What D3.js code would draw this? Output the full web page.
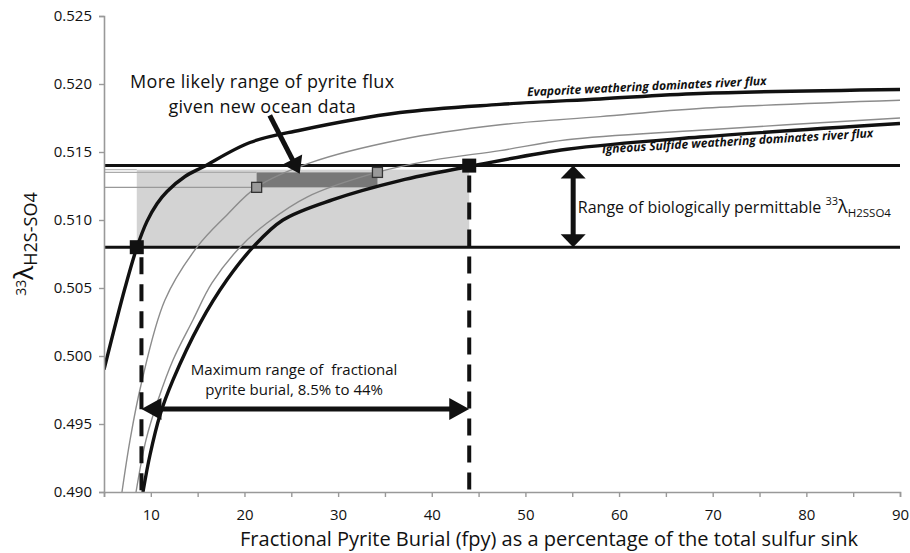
<!DOCTYPE html>
<html><head><meta charset="utf-8">
<script src="https://cdn.jsdelivr.net/npm/d3@7"></script>
<style>body{margin:0;background:#fff;} svg text{font-family:"Open Sans",sans-serif;fill:#111;}</style>
</head><body><svg id="c" width="910" height="553"></svg>
<script>
// ---------- data ----------
const xTickValues = [5,10,15,20,25,30,35,40,45,50,55,60,65,70,75,80,85,90];
const xTickLabels = [10,20,30,40,50,60,70,80,90];
const yTickValues = [0.490,0.495,0.500,0.505,0.510,0.515,0.520,0.525];

const evapFpy = [5.0,7.24,8.52,9.59,10.66,11.73,13.65,15.57,20.59,25.93,36.61,47.28,57.96,68.64,90];
const evapLam = [0.4990,0.5050,0.5080,0.5099,0.5112,0.5121,0.5132,0.5139,0.5157,0.5166,0.5179,0.5185,0.5189,0.5193,0.5196];

const greyUpFpy = [6.92,7.78,8.95,11.51,14.93,18.13,21.34,27.0,36.6,47.3,58.0,68.6,90];
const greyUpLam = [0.4900,0.49382,0.49787,0.50412,0.5080,0.51037,0.51243,0.5142,0.5159,0.5170,0.5176,0.5182,0.5188];

const greyLoFpy = [8.42,9.48,10.77,12.37,14.50,16.53,19.52,22.41,26.68,34.15,40.13,47.28,54.44,68.64,90];
const greyLoLam = [0.4900,0.49382,0.49676,0.49971,0.50265,0.50537,0.5080,0.50978,0.51169,0.5135,0.5144,0.5151,0.5159,0.5166,0.5175];

const ignFpy = [9.16,9.91,10.98,12.37,15.25,18.13,20.91,24.11,29.45,36.61,43.76,54.44,68.64,90];
const ignLam = [0.4900,0.49272,0.49566,0.49824,0.5024,0.5056,0.5080,0.5100,0.5115,0.5129,0.5139,0.5152,0.5161,0.5171];

const rangeLam = [0.5080, 0.5140];          // biologically permittable band
const maxRangeFpy = [8.5, 44.0];            // maximum range of fractional pyrite burial
const likelyFpy = [21.3, 34.2];             // more likely range
const likelyLam = [0.5124, 0.5135];
const boxTopLam = 0.5137;
const dashFpy = [9.0, 44.0];
const dashTopLam = [0.5080, 0.5140];
const hArrowLam = 0.4961;
const vArrowFpy = 55.1;
const diagArrow = [[22.7,0.5177],[25.9,0.5134]];

const noteLikely = ["More likely range of pyrite flux","given new ocean data"];
const noteLikelyPos = [[21.9,0.51971],[21.9,0.51787]];
const noteMax = ["Maximum range of  fractional","pyrite burial, 8.5% to 44%"];
const noteMaxPos = [[25.3,0.4986],[25.3,0.4971]];
const noteRange = "Range of biologically permittable ";
const noteRangePos = [55.6,0.5105];
const labelEvap = "Evaporite weathering dominates river flux";
const labelEvapPos = [50.2,0.5191];
const labelIgn = "Igneous Sulfide weathering dominates river flux";
const labelIgnPos = [58.2,0.5149];
const xTitle = "Fractional Pyrite Burial (fpy) as a percentage of the total sulfur sink";

// ---------- layout ----------
const svg = d3.select("#c");
const m = {l:104, r:10, t:16, b:61};
const W = 910, H = 553;
const x = d3.scaleLinear().domain([5,90]).range([m.l, W-m.r]);
const y = d3.scaleLinear().domain([0.490,0.525]).range([H-m.b, m.t]);

svg.append("defs").append("clipPath").attr("id","clip")
  .append("rect").attr("x",m.l).attr("y",m.t).attr("width",W-m.r-m.l).attr("height",H-m.b-m.t);

const g = svg.append("g");

// light range box
g.append("rect").attr("x",x(maxRangeFpy[0])).attr("y",y(boxTopLam))
  .attr("width",x(maxRangeFpy[1])-x(maxRangeFpy[0])).attr("height",y(rangeLam[0])-y(boxTopLam))
  .attr("fill","#d3d3d3");
// dark likely box
g.append("rect").attr("x",x(likelyFpy[0])).attr("y",y(likelyLam[1]))
  .attr("width",x(likelyFpy[1])-x(likelyFpy[0])).attr("height",y(likelyLam[0])-y(likelyLam[1]))
  .attr("fill","#787878");

// guide lines
g.append("line").attr("x1",x(5)).attr("x2",x(maxRangeFpy[0])).attr("y1",y(boxTopLam)).attr("y2",y(boxTopLam))
  .attr("stroke","#bbb").attr("stroke-width",1.2);
g.append("line").attr("x1",x(5)).attr("x2",x(likelyFpy[0])).attr("y1",y(likelyLam[1])).attr("y2",y(likelyLam[1]))
  .attr("stroke","#aaa").attr("stroke-width",1.2);
g.append("line").attr("x1",x(5)).attr("x2",x(likelyFpy[0])).attr("y1",y(likelyLam[0])).attr("y2",y(likelyLam[0]))
  .attr("stroke","#999").attr("stroke-width",1.2);

// horizontal band lines
rangeLam.forEach(v=>{
  g.append("line").attr("x1",x(5)).attr("x2",x(90)).attr("y1",y(v)).attr("y2",y(v))
    .attr("stroke","#111").attr("stroke-width",3);
});

// curves
const line = d3.line().x(d=>x(d[0])).y(d=>y(d[1])).curve(d3.curveCatmullRom.alpha(0.5));
const curves = [
  {f:greyUpFpy,l:greyUpLam,c:"#8c8c8c",w:1.4},
  {f:greyLoFpy,l:greyLoLam,c:"#8c8c8c",w:1.4},
  {f:evapFpy,l:evapLam,c:"#111",w:3.4},
  {f:ignFpy,l:ignLam,c:"#111",w:3.4}
];
const cg = g.append("g").attr("clip-path","url(#clip)");
curves.forEach(c=>{
  cg.append("path").datum(c.f.map((f,i)=>[f,c.l[i]])).attr("d",line)
    .attr("fill","none").attr("stroke",c.c).attr("stroke-width",c.w);
});

// dashed verticals
dashFpy.forEach((f,i)=>{
  g.append("line").attr("x1",x(f)).attr("x2",x(f)).attr("y1",y(dashTopLam[i])+10).attr("y2",y(0.490))
    .attr("stroke","#111").attr("stroke-width",4).attr("stroke-dasharray","17,10");
});

// markers
[[maxRangeFpy[0],rangeLam[0]],[maxRangeFpy[1],rangeLam[1]]].forEach(p=>{
  g.append("rect").attr("x",x(p[0])-7).attr("y",y(p[1])-7).attr("width",14).attr("height",14).attr("fill","#111");
});
[[likelyFpy[0],likelyLam[0]],[likelyFpy[1],likelyLam[1]]].forEach(p=>{
  g.append("rect").attr("x",x(p[0])-5).attr("y",y(p[1])-5).attr("width",10).attr("height",10)
    .attr("fill","#999").attr("stroke","#333").attr("stroke-width",1.3);
});

// arrow helper
function arrow(x1,y1,x2,y2,w,hl,hw,both){
  const a = Math.atan2(y2-y1,x2-x1), c=Math.cos(a), s=Math.sin(a);
  const head = (tx,ty,dir)=>{
    const bx = tx - dir*c*hl, by = ty - dir*s*hl;
    return `M${tx},${ty}L${bx - s*hw/2},${by + c*hw/2}L${bx + s*hw/2},${by - c*hw/2}Z`;
  };
  const sx = both ? x1 + c*hl*0.8 : x1, sy = both ? y1 + s*hl*0.8 : y1;
  g.append("line").attr("x1",sx).attr("y1",sy).attr("x2",x2-c*hl*0.8).attr("y2",y2-s*hl*0.8)
    .attr("stroke","#111").attr("stroke-width",w);
  g.append("path").attr("d",head(x2,y2,1)).attr("fill","#111");
  if(both) g.append("path").attr("d",head(x1,y1,-1)).attr("fill","#111");
}
arrow(x(dashFpy[0]),y(hArrowLam),x(dashFpy[1]),y(hArrowLam),5,20,22,true);
arrow(x(vArrowFpy),y(rangeLam[1]),x(vArrowFpy),y(rangeLam[0]),5,13,25,true);
arrow(x(diagArrow[0][0]),y(diagArrow[0][1]),x(diagArrow[1][0]),y(diagArrow[1][1]),5,16,22,false);

// axes
const xAxis = d3.axisBottom(x).tickValues(xTickValues).tickSize(5)
  .tickFormat(d=>xTickLabels.includes(d)?d:"");
const gx = svg.append("g").attr("transform",`translate(0,${H-m.b})`).call(xAxis);
gx.select(".domain").attr("stroke","#999").attr("stroke-width",1.6);
gx.selectAll(".tick line").attr("stroke","#999").attr("stroke-width",1.4);
gx.selectAll(".tick text").attr("font-size",15).attr("font-family","Open Sans").attr("fill","#111").attr("dy","1.3em");

const yAxis = d3.axisLeft(y).tickValues(yTickValues).tickSize(5).tickFormat(d3.format(".3f"));
const gy = svg.append("g").attr("transform",`translate(${m.l},0)`).call(yAxis);
gy.select(".domain").attr("stroke","#999").attr("stroke-width",1.6);
gy.selectAll(".tick line").attr("stroke","#999").attr("stroke-width",1.4);
gy.selectAll(".tick text").attr("font-size",15).attr("font-family","Open Sans").attr("fill","#111").attr("x",-12);

// axis titles
svg.append("text").attr("x",549).attr("y",546).attr("text-anchor","middle")
  .attr("font-size",20).text(xTitle);
const yl = svg.append("text").attr("transform","translate(33,244) rotate(-90)").attr("text-anchor","middle");
yl.append("tspan").attr("font-size",14).attr("dy",-7).text("33");
yl.append("tspan").attr("font-size",26).attr("dy",7).text("λ");
yl.append("tspan").attr("font-size",18).attr("dy",4).text("H2S-SO4");

// annotations
noteLikely.forEach((t,i)=>{
  svg.append("text").attr("x",x(noteLikelyPos[i][0])).attr("y",y(noteLikelyPos[i][1]))
    .attr("text-anchor","middle").attr("font-size",18).attr("letter-spacing",0.3).text(t);
});
noteMax.forEach((t,i)=>{
  svg.append("text").attr("x",x(noteMaxPos[i][0])).attr("y",y(noteMaxPos[i][1]))
    .attr("text-anchor","middle").attr("font-size",15).style("white-space","pre").text(t);
});
const rt = svg.append("text").attr("x",x(noteRangePos[0])).attr("y",y(noteRangePos[1])).attr("font-size",16);
rt.append("tspan").text(noteRange);
rt.append("tspan").attr("font-size",11).attr("dy",-8).text("33");
rt.append("tspan").attr("font-size",18).attr("dy",8).text("λ");
rt.append("tspan").attr("font-size",11.5).attr("dy",4).text("H2SSO4");

svg.append("text").attr("transform",`translate(${x(labelEvapPos[0])},${y(labelEvapPos[1])}) rotate(-2.7)`)
  .attr("font-size",12).attr("font-weight","bold").attr("font-style","italic").text(labelEvap);
svg.append("text").attr("transform",`translate(${x(labelIgnPos[0])},${y(labelIgnPos[1])}) rotate(-3.4)`)
  .attr("font-size",12).attr("font-weight","bold").attr("font-style","italic").text(labelIgn);
</script></body></html>
